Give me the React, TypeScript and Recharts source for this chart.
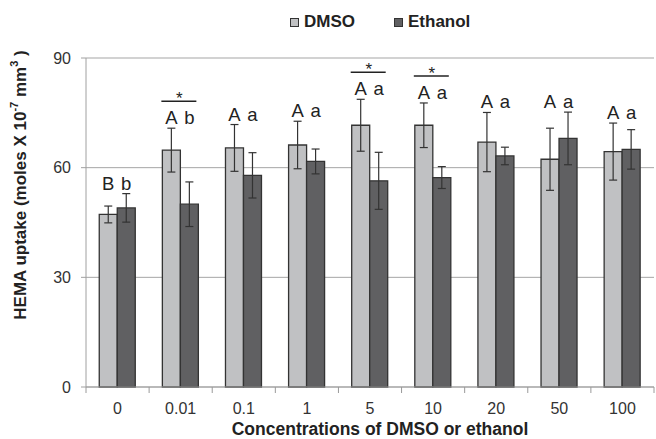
import React from 'react';
import { BarChart, Bar, XAxis, YAxis, CartesianGrid, ErrorBar, LabelList, Legend } from 'recharts';

// values
const concentrations = ['0', '0.01', '0.1', '1', '5', '10', '20', '50', '100'];
const dmso = [47.2, 64.8, 65.4, 66.2, 71.6, 71.6, 67.0, 62.3, 64.4];
const dmsoErr = [2.3, 6.0, 6.4, 6.5, 7.1, 6.1, 8.1, 8.5, 7.8];
const ethanol = [49.0, 50.0, 57.9, 61.7, 56.4, 57.3, 63.2, 68.0, 65.0];
const ethanolErr = [3.9, 6.1, 6.2, 3.4, 7.8, 3.0, 2.4, 7.2, 5.4];
const dmsoLetters = ['B', 'A', 'A', 'A', 'A', 'A', 'A', 'A', 'A'];
const ethanolLetters = ['b', 'b', 'a', 'a', 'a', 'a', 'a', 'a', 'a'];
const significant = [false, true, false, false, true, true, false, false, false];
const yTicks = [0, 30, 60, 90];

const data = concentrations.map((c, i) => ({
  conc: c,
  dmso: dmso[i],
  dmsoErr: dmsoErr[i],
  ethanol: ethanol[i],
  ethanolErr: ethanolErr[i],
}));

const FONT = '"Liberation Sans", Arial, sans-serif';
const DMSO_FILL = '#c0c1c3';
const ETH_FILL = '#606062';
const EDGE = '#333333';

const PLOT_LEFT = 86;
const PLOT_RIGHT = 654;
const HALF_BAND = (PLOT_RIGHT - PLOT_LEFT) / concentrations.length / 2;

// letters (and the significance bar) over each pair of bars
const makeLetterLabel = (letters: string[], withStar: boolean) => (props: any) => {
  const { x, y, width, height, value, index } = props;
  if (value == null || !height) return null;
  const ppu = height / value;
  const base = y + height;
  const top = Math.max(dmso[index] + dmsoErr[index], ethanol[index] + ethanolErr[index]);
  const topPx = base - top * ppu;
  const cx = x + width / 2;
  const letterBase = topPx - 4;
  const lineY = topPx - 27;
  const groupCenter = x + width;
  return (
    <g>
      <text x={cx} y={letterBase} textAnchor="middle" fontSize={18.5} fill="#222" fontFamily={FONT}>
        {letters[index]}
      </text>
      {withStar && significant[index] && (
        <g>
          <line x1={groupCenter - 19} x2={groupCenter + 16} y1={lineY} y2={lineY} stroke="#222" strokeWidth={1.5} />
          <text x={groupCenter - 1} y={lineY + 3} textAnchor="middle" fontSize={17} fill="#222" fontFamily={FONT}>
            *
          </text>
        </g>
      )}
    </g>
  );
};

const XTick = (props: any) => {
  const { x, y, payload, index } = props;
  const half = payload && payload.offset ? payload.offset : HALF_BAND;
  const last = index === concentrations.length - 1;
  return (
    <g>
      <line x1={x - half} x2={x - half} y1={y} y2={y + 6} stroke="#9a9a9a" />
      {last && <line x1={x + half} x2={x + half} y1={y} y2={y + 6} stroke="#9a9a9a" />}
      <text x={x} y={y + 27} textAnchor="middle" fontSize={16} fill="#333" fontFamily={FONT}>
        {payload.value}
      </text>
    </g>
  );
};

const XTitle = () => (
  <text
    x={380}
    y={429}
    textAnchor="middle"
    dominantBaseline="central"
    fontSize={17.5}
    fontWeight="bold"
    fill="#222"
    fontFamily={FONT}
  >
    Concentrations of DMSO or ethanol
  </text>
);

const YTitle = () => (
  <text
    x={20}
    y={185}
    transform="rotate(-90, 20, 185)"
    textAnchor="middle"
    dominantBaseline="central"
    fontSize={17}
    fontWeight="bold"
    fill="#222"
    fontFamily={FONT}
  >
    HEMA uptake (moles X 10
    <tspan dy={-6} fontSize={11}>-7</tspan>
    <tspan dy={6}> mm</tspan>
    <tspan dy={-6} fontSize={11}>3</tspan>
    <tspan dy={6}> )</tspan>
  </text>
);

const LegendContent = () => {
  const item = (fill: string, text: string, gap: number) => (
    <div style={{ display: 'flex', alignItems: 'center', marginRight: gap }}>
      <div style={{ width: 7, height: 7, background: fill, border: `1px solid ${EDGE}`, marginRight: 5 }} />
      <span style={{ fontWeight: 'bold', fontSize: 17, color: '#222', lineHeight: '18px' }}>{text}</span>
    </div>
  );
  return (
    <div style={{ display: 'flex', height: 18, alignItems: 'center', fontFamily: FONT }}>
      {item(DMSO_FILL, 'DMSO', 39)}
      {item(ETH_FILL, 'Ethanol', 0)}
    </div>
  );
};

const App: React.FC = () => {
  return (
    <div style={{ position: 'absolute', left: 0, top: 0, width: 656, height: 439, background: '#fff' }}>
      <BarChart
        width={656}
        height={439}
        data={data}
        margin={{ top: 40, right: 2, left: 0, bottom: 22 }}
        barCategoryGap="21%"
        barGap={0}
      >
        <Legend
          verticalAlign="top"
          content={<LegendContent />}
          wrapperStyle={{ left: 290, top: 13, width: 'auto' }}
        />
        <CartesianGrid vertical={false} stroke="#a5a5a5" />
        <XAxis
          dataKey="conc"
          height={30}
          stroke="#a0a0a0"
          tickLine={false}
          tickSize={0}
          tickMargin={0}
          tick={<XTick />}
          interval={0}
          label={<XTitle />}
        />
        <YAxis
          width={86}
          domain={[0, 90]}
          ticks={yTicks}
          stroke="#a0a0a0"
          tickSize={5}
          tickMargin={10}
          tick={{ fontSize: 16, fill: '#333', fontFamily: FONT }}
          label={<YTitle />}
        />
        <Bar dataKey="dmso" fill={DMSO_FILL} stroke={EDGE} strokeWidth={1.3} isAnimationActive={false}>
          <ErrorBar dataKey="dmsoErr" width={4} stroke="#333" strokeWidth={1.2} />
          <LabelList dataKey="dmso" content={makeLetterLabel(dmsoLetters, true)} />
        </Bar>
        <Bar dataKey="ethanol" fill={ETH_FILL} stroke={EDGE} strokeWidth={1.3} isAnimationActive={false}>
          <ErrorBar dataKey="ethanolErr" width={4} stroke="#333" strokeWidth={1.2} />
          <LabelList dataKey="ethanol" content={makeLetterLabel(ethanolLetters, false)} />
        </Bar>
      </BarChart>
    </div>
  );
};

export default App;
